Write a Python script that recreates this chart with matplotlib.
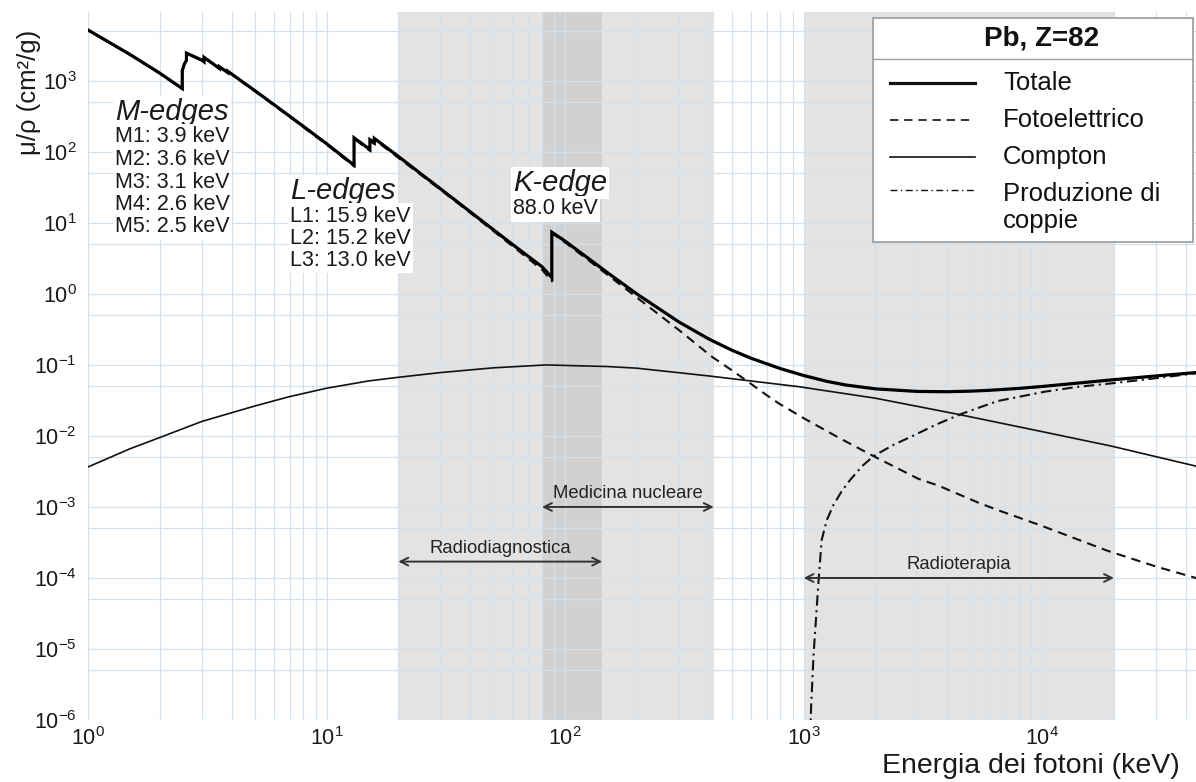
import matplotlib
matplotlib.use('Agg')
import matplotlib.pyplot as plt
from matplotlib.lines import Line2D
from matplotlib.patches import Rectangle
from matplotlib.ticker import LogLocator, NullFormatter

plt.rcParams['font.family'] = ['Liberation Sans', 'DejaVu Sans']
plt.rcParams['mathtext.fontset'] = 'custom'
plt.rcParams['mathtext.rm'] = 'Liberation Sans'
plt.rcParams['mathtext.it'] = 'Liberation Sans:italic'
plt.rcParams['mathtext.default'] = 'regular'
plt.rcParams['axes.unicode_minus'] = False

# ---------------- data (energies in keV, mu/rho in cm^2/g) ----------------
E_total = [1, 1.5, 2, 2.484, 2.484, 2.534, 2.586, 2.586, 3.0, 3.066, 3.066, 3.301,
           3.554, 3.554, 3.699, 3.851, 3.851, 4, 5, 6, 8, 10, 13.04, 13.04, 15,
           15.2, 15.2, 15.53, 15.86, 15.86, 20, 30, 40, 50, 60, 80, 88.0, 88.0,
           100, 150, 200, 300, 400, 500, 600, 800, 1000, 1250, 1500, 2000, 3000,
           4000, 5000, 6000, 8000, 10000, 15000, 20000, 30000, 45000]
mu_total = [5210, 2356, 1285, 780, 1397, 1726, 1944, 2458, 1965, 1857, 2146, 1796,
            1496, 1585, 1442, 1311, 1368, 1251, 730.4, 467.2, 228.7, 130.6, 65, 158, 111.6,
            107.8, 148.5, 141.6, 134.4, 154.8, 86.36, 30.32, 14.36, 8.041, 5.021, 2.419, 1.70, 7.4,
            5.549, 2.014, 0.9985, 0.4031, 0.2323, 0.1614, 0.1248, 0.0887, 0.07102, 0.05876, 0.05222, 0.04606, 0.04234,
            0.04197, 0.04272, 0.04391, 0.04675, 0.04972, 0.05658, 0.06206, 0.0700, 0.0785]

E_photo = [1, 1.5, 2, 2.484, 2.484, 2.534, 2.586, 2.586, 3.0, 3.066, 3.066, 3.301,
           3.554, 3.554, 3.699, 3.851, 3.851, 4, 5, 6, 8, 10, 13.04, 13.04, 15,
           15.2, 15.2, 15.53, 15.86, 15.86, 20, 30, 40, 50, 60, 80, 88.0, 88.0,
           100, 150, 200, 300, 412, 500, 570, 714, 786, 1000, 1400, 1963, 3020,
           3670, 5400, 6540, 10000, 18900, 30000, 45000]
mu_photo = [5180, 2330, 1265, 765, 1375, 1700, 1915, 2420, 1935, 1828, 2113, 1768,
            1472, 1560, 1419, 1290, 1346, 1231, 717, 458, 223, 127, 62.5, 153, 107,
            103.6, 143, 136, 129, 149, 82.5, 29.4, 13.9, 7.7, 4.75, 2.2, 1.50, 7.15,
            5.3, 1.88, 0.89, 0.31, 0.131, 0.084, 0.0616, 0.0358, 0.0288, 0.0178, 0.0095, 0.0052, 0.0025,
            0.0020, 0.00115, 0.0009, 0.00054, 0.00024, 0.000145, 0.000098]

E_compton = [1, 1.5, 2, 3, 5, 7, 10, 15, 20, 30, 50, 83, 150, 200, 400, 950,
             2000, 4500, 10000, 19500, 45000]
mu_compton = [0.00366, 0.0066, 0.0095, 0.0160, 0.0264, 0.0358, 0.047, 0.0595, 0.067,
              0.078, 0.091, 0.100, 0.095, 0.090, 0.070, 0.0495, 0.034, 0.020, 0.0115,
              0.0072, 0.0037]

E_pair = [1060, 1075, 1100, 1156, 1190, 1250, 1334, 1450, 1567, 1750, 1963, 2400,
          2830, 3600, 4580, 6500, 10260, 14000, 19500, 30000, 45000]
mu_pair = [3e-7, 1.5e-6, 8e-6, 9.4e-5, 3.4e-4, 6.5e-4, 1.07e-3, 1.7e-3, 2.4e-3, 3.7e-3,
           5.2e-3, 7.6e-3, 9.8e-3, 1.45e-2, 2.04e-2, 3.1e-2, 4.2e-2, 4.9e-2, 5.5e-2,
           6.5e-2, 7.7e-2]

bands_light = [(20, 420), (1000, 20000)]
band_dark = (80, 143)
ranges = [("Radiodiagnostica", 20, 143, 1.7e-4),
          ("Medicina nucleare", 80, 420, 1.0e-3),
          ("Radioterapia", 1000, 20000, 1.0e-4)]

m_edges = ["M1: 3.9 keV", "M2: 3.6 keV", "M3: 3.1 keV", "M4: 2.6 keV", "M5: 2.5 keV"]
l_edges = ["L1: 15.9 keV", "L2: 15.2 keV", "L3: 13.0 keV"]
k_edge = "88.0 keV"
legend_labels = ["Totale", "Fotoelettrico", "Compton", "Produzione di\ncoppie"]

# ---------------- figure ----------------
W, H = 1196, 782
fig = plt.figure(figsize=(W / 100, H / 100), dpi=100)
ax = fig.add_axes([88 / W, 62 / H, 1108 / W, 708 / H])
ax.set_xscale('log')
ax.set_yscale('log')
ax.set_xlim(1, 10 ** 4.645)
ax.set_ylim(1e-6, 10 ** 3.97)

ax.xaxis.set_major_locator(LogLocator(base=10, numticks=20))
ax.xaxis.set_minor_locator(LogLocator(base=10, subs=range(2, 10), numticks=20))
ax.yaxis.set_major_locator(LogLocator(base=10, numticks=20))
ax.yaxis.set_minor_locator(LogLocator(base=10, subs=(5,), numticks=20))
ax.xaxis.set_minor_formatter(NullFormatter())
ax.yaxis.set_minor_formatter(NullFormatter())
ax.set_axisbelow(True)
ax.grid(which='both', color='#d2e1ec', lw=0.9)
ax.tick_params(which='both', length=0, labelsize=15.5, colors='#1a1a1a')
ax.tick_params(axis='x', pad=5)
ax.tick_params(axis='y', pad=8)
for s in ax.spines.values():
    s.set_visible(False)

for a, b in bands_light:
    ax.axvspan(a, b, color='#e3e3e3', lw=0, zorder=0)
ax.axvspan(band_dark[0], band_dark[1], color='#d1d1d1', lw=0, zorder=0)

ax.plot(E_compton, mu_compton, color='#111111', lw=1.2, zorder=3)
ax.plot(E_pair, mu_pair, color='#111111', lw=1.5, dashes=(5, 2.2, 1, 2.2), zorder=3)
ax.plot(E_photo, mu_photo, color='#111111', lw=1.5, dashes=(4.5, 3), zorder=3)
ax.plot(E_total, mu_total, color='#000000', lw=2.3, zorder=4, solid_joinstyle='miter')

for label, a, b, y in ranges:
    ax.annotate('', xy=(a, y), xytext=(b, y),
                arrowprops=dict(arrowstyle='<->', color='#333333', lw=1.4,
                                shrinkA=0, shrinkB=0, mutation_scale=14), zorder=5)
    xc = (a * b) ** 0.5
    ax.annotate(label, xy=(xc, y), xytext=(0, 13), textcoords='offset pixels',
                ha='center', va='center', fontsize=13.3, color='#222222', zorder=5)

# ---------------- edge annotations ----------------
def fx(x):
    return x / W

def fy(y):
    return 1 - y / H

box = dict(fc='white', ec='none', pad=1.5)
fig.text(fx(115), fy(112), "M-edges", fontsize=21, style='italic', ha='left', va='center',
         color='#1a1a1a', bbox=box)
for i, t in enumerate(m_edges):
    fig.text(fx(115), fy(137 + 22.5 * i), t, fontsize=15.5, ha='left', va='center',
             color='#1a1a1a', bbox=box)
fig.text(fx(290), fy(191), "L-edges", fontsize=21, style='italic', ha='left', va='center',
         color='#1a1a1a', bbox=box)
for i, t in enumerate(l_edges):
    fig.text(fx(290), fy(216 + 22 * i), t, fontsize=15.5, ha='left', va='center',
             color='#1a1a1a', bbox=box)
fig.text(fx(513), fy(183), "K-edge", fontsize=21, style='italic', ha='left', va='center',
         color='#1a1a1a', bbox=box)
fig.text(fx(513), fy(209), k_edge, fontsize=15.5, ha='left', va='center',
         color='#1a1a1a', bbox=box)

# ---------------- axis labels ----------------
fig.text(fx(29), fy(92), "μ/ρ (cm²/g)", rotation=90, fontsize=18.5, ha='center', va='center',
         color='#1a1a1a')
fig.text(fx(1180), fy(773), "Energia dei fotoni (keV)", fontsize=20.5, ha='right', va='baseline',
         color='#1a1a1a')

# ---------------- legend box ----------------
fig.add_artist(Rectangle((fx(873), fy(242)), (1193 - 873) / W, (242 - 18) / H,
                         transform=fig.transFigure, fc='white', ec='#9a9a9a', lw=1.2, zorder=10))
fig.add_artist(Line2D([fx(873), fx(1193)], [fy(59), fy(59)], color='#9a9a9a', lw=1.0, zorder=11))
fig.text(fx(1042), fy(38), "Pb, Z=82", fontsize=20, fontweight='bold', ha='center', va='center',
         color='#111111', zorder=12)
styles = [dict(lw=2.3), dict(lw=1.2, dashes=(5, 3.5)), dict(lw=1.2), dict(lw=1.0, dashes=(5, 2.5, 1, 2.5))]
ys_line = [83, 120, 157, 190]
ys_text = [83, 120, 157, 194]
for lab, st, yl, yt in zip(legend_labels, styles, ys_line, ys_text):
    fig.add_artist(Line2D([fx(890), fx(975)], [fy(yl), fy(yl)], color='#111111', zorder=12, **st))
    if "\n" in lab:
        a, b = lab.split("\n")
        fig.text(fx(1003), fy(yt), a, fontsize=18.5, ha='left', va='center', color='#111111', zorder=12)
        fig.text(fx(1003), fy(yt + 27), b, fontsize=18.5, ha='left', va='center', color='#111111', zorder=12)
    else:
        fig.text(fx(1003), fy(yt), lab, fontsize=18.5, ha='left', va='center', color='#111111', zorder=12)

fig.savefig('out.png', dpi=100)
